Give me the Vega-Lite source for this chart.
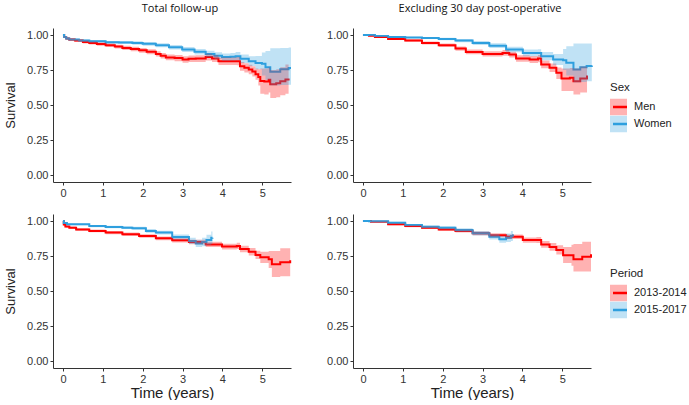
{
  "$schema": "https://vega.github.io/schema/vega-lite/v6.json",
  "background": "white",
  "padding": {"left": 4, "top": 3, "right": 0, "bottom": 0},
  "autosize": {"type": "pad"},
  "config": {
    "font": "Liberation Sans",
    "view": {"stroke": null},
    "axis": {"grid": false, "domainColor": "#333333", "tickColor": "#333333", "labelColor": "#333333", "labelFontSize": 11, "titleColor": "#222222", "titleFontWeight": "normal", "tickSize": 3, "labelPadding": 2, "labelOverlap": false},
    "title": {"font": "Open Sans", "fontSize": 11, "fontWeight": "normal", "color": "#111111"},
    "legend": {"labelFontSize": 11, "titleFontSize": 11.5, "titleFontWeight": "normal", "labelColor": "#222222", "titleColor": "#222222", "padding": 0, "rowPadding": 0, "titlePadding": 5, "labelOffset": 7, "clipHeight": 17}
  },
  "datasets": {
    "tl": [
      {"g": "Men", "t": 0, "s": 1, "lo": 1, "hi": 1},
      {"g": "Men", "t": 0.03, "s": 0.985, "lo": 0.978, "hi": 0.992},
      {"g": "Men", "t": 0.08, "s": 0.975, "lo": 0.967, "hi": 0.983},
      {"g": "Men", "t": 0.15, "s": 0.967, "lo": 0.958, "hi": 0.976},
      {"g": "Men", "t": 0.3, "s": 0.96, "lo": 0.95, "hi": 0.97},
      {"g": "Men", "t": 0.5, "s": 0.95, "lo": 0.94, "hi": 0.961},
      {"g": "Men", "t": 0.66, "s": 0.943, "lo": 0.932, "hi": 0.954},
      {"g": "Men", "t": 0.85, "s": 0.935, "lo": 0.923, "hi": 0.947},
      {"g": "Men", "t": 1.07, "s": 0.927, "lo": 0.914, "hi": 0.94},
      {"g": "Men", "t": 1.3, "s": 0.917, "lo": 0.903, "hi": 0.931},
      {"g": "Men", "t": 1.49, "s": 0.908, "lo": 0.893, "hi": 0.923},
      {"g": "Men", "t": 1.7, "s": 0.9, "lo": 0.884, "hi": 0.916},
      {"g": "Men", "t": 1.91, "s": 0.891, "lo": 0.874, "hi": 0.908},
      {"g": "Men", "t": 2.1, "s": 0.88, "lo": 0.862, "hi": 0.898},
      {"g": "Men", "t": 2.33, "s": 0.865, "lo": 0.846, "hi": 0.884},
      {"g": "Men", "t": 2.45, "s": 0.852, "lo": 0.832, "hi": 0.872},
      {"g": "Men", "t": 2.58, "s": 0.84, "lo": 0.819, "hi": 0.861},
      {"g": "Men", "t": 2.8, "s": 0.835, "lo": 0.813, "hi": 0.857},
      {"g": "Men", "t": 3.0, "s": 0.825, "lo": 0.802, "hi": 0.848},
      {"g": "Men", "t": 3.15, "s": 0.83, "lo": 0.807, "hi": 0.853},
      {"g": "Men", "t": 3.33, "s": 0.832, "lo": 0.808, "hi": 0.856},
      {"g": "Men", "t": 3.58, "s": 0.842, "lo": 0.818, "hi": 0.866},
      {"g": "Men", "t": 3.74, "s": 0.832, "lo": 0.807, "hi": 0.857},
      {"g": "Men", "t": 3.9, "s": 0.813, "lo": 0.786, "hi": 0.84},
      {"g": "Men", "t": 4.36, "s": 0.813, "lo": 0.784, "hi": 0.842},
      {"g": "Men", "t": 4.44, "s": 0.776, "lo": 0.745, "hi": 0.807},
      {"g": "Men", "t": 4.55, "s": 0.766, "lo": 0.733, "hi": 0.799},
      {"g": "Men", "t": 4.66, "s": 0.754, "lo": 0.72, "hi": 0.788},
      {"g": "Men", "t": 4.75, "s": 0.74, "lo": 0.703, "hi": 0.777},
      {"g": "Men", "t": 4.83, "s": 0.72, "lo": 0.68, "hi": 0.76},
      {"g": "Men", "t": 4.9, "s": 0.7, "lo": 0.64, "hi": 0.755},
      {"g": "Men", "t": 4.95, "s": 0.672, "lo": 0.58, "hi": 0.76},
      {"g": "Men", "t": 5.05, "s": 0.668, "lo": 0.575, "hi": 0.76},
      {"g": "Men", "t": 5.16, "s": 0.68, "lo": 0.59, "hi": 0.77},
      {"g": "Men", "t": 5.2, "s": 0.648, "lo": 0.55, "hi": 0.75},
      {"g": "Men", "t": 5.35, "s": 0.655, "lo": 0.555, "hi": 0.755},
      {"g": "Men", "t": 5.45, "s": 0.67, "lo": 0.57, "hi": 0.77},
      {"g": "Men", "t": 5.58, "s": 0.683, "lo": 0.58, "hi": 0.79},
      {"g": "Men", "t": 5.66, "s": 0.69, "lo": 0.585, "hi": 0.8},
      {"g": "Women", "t": 0, "s": 1, "lo": 1, "hi": 1},
      {"g": "Women", "t": 0.03, "s": 0.985, "lo": 0.979, "hi": 0.991},
      {"g": "Women", "t": 0.08, "s": 0.975, "lo": 0.968, "hi": 0.982},
      {"g": "Women", "t": 0.16, "s": 0.967, "lo": 0.96, "hi": 0.974},
      {"g": "Women", "t": 0.4, "s": 0.96, "lo": 0.952, "hi": 0.968},
      {"g": "Women", "t": 0.66, "s": 0.955, "lo": 0.946, "hi": 0.964},
      {"g": "Women", "t": 1.07, "s": 0.948, "lo": 0.938, "hi": 0.958},
      {"g": "Women", "t": 1.4, "s": 0.946, "lo": 0.935, "hi": 0.957},
      {"g": "Women", "t": 1.74, "s": 0.943, "lo": 0.931, "hi": 0.955},
      {"g": "Women", "t": 2.0, "s": 0.937, "lo": 0.924, "hi": 0.95},
      {"g": "Women", "t": 2.33, "s": 0.927, "lo": 0.913, "hi": 0.941},
      {"g": "Women", "t": 2.66, "s": 0.912, "lo": 0.896, "hi": 0.928},
      {"g": "Women", "t": 2.99, "s": 0.896, "lo": 0.878, "hi": 0.914},
      {"g": "Women", "t": 3.3, "s": 0.88, "lo": 0.86, "hi": 0.9},
      {"g": "Women", "t": 3.58, "s": 0.865, "lo": 0.843, "hi": 0.887},
      {"g": "Women", "t": 3.8, "s": 0.852, "lo": 0.828, "hi": 0.876},
      {"g": "Women", "t": 3.99, "s": 0.842, "lo": 0.816, "hi": 0.868},
      {"g": "Women", "t": 4.2, "s": 0.845, "lo": 0.818, "hi": 0.872},
      {"g": "Women", "t": 4.33, "s": 0.849, "lo": 0.82, "hi": 0.878},
      {"g": "Women", "t": 4.45, "s": 0.83, "lo": 0.8, "hi": 0.86},
      {"g": "Women", "t": 4.66, "s": 0.813, "lo": 0.778, "hi": 0.848},
      {"g": "Women", "t": 4.83, "s": 0.8, "lo": 0.755, "hi": 0.85},
      {"g": "Women", "t": 4.99, "s": 0.794, "lo": 0.71, "hi": 0.875},
      {"g": "Women", "t": 5.08, "s": 0.77, "lo": 0.68, "hi": 0.885},
      {"g": "Women", "t": 5.2, "s": 0.737, "lo": 0.64, "hi": 0.905},
      {"g": "Women", "t": 5.45, "s": 0.755, "lo": 0.642, "hi": 0.908},
      {"g": "Women", "t": 5.66, "s": 0.765, "lo": 0.645, "hi": 0.91},
      {"g": "Women", "t": 5.72, "s": 0.765, "lo": 0.645, "hi": 0.91}
    ],
    "tr": [
      {"g": "Men", "t": 0, "s": 1, "lo": 1, "hi": 1},
      {"g": "Men", "t": 0.15, "s": 0.995, "lo": 0.992, "hi": 0.998},
      {"g": "Men", "t": 0.3, "s": 0.986, "lo": 0.981, "hi": 0.991},
      {"g": "Men", "t": 0.63, "s": 0.972, "lo": 0.965, "hi": 0.979},
      {"g": "Men", "t": 1.06, "s": 0.96, "lo": 0.951, "hi": 0.969},
      {"g": "Men", "t": 1.48, "s": 0.943, "lo": 0.932, "hi": 0.954},
      {"g": "Men", "t": 1.9, "s": 0.927, "lo": 0.914, "hi": 0.94},
      {"g": "Men", "t": 2.32, "s": 0.903, "lo": 0.888, "hi": 0.918},
      {"g": "Men", "t": 2.58, "s": 0.879, "lo": 0.862, "hi": 0.896},
      {"g": "Men", "t": 3.0, "s": 0.865, "lo": 0.846, "hi": 0.884},
      {"g": "Men", "t": 3.5, "s": 0.872, "lo": 0.852, "hi": 0.892},
      {"g": "Men", "t": 3.67, "s": 0.86, "lo": 0.839, "hi": 0.881},
      {"g": "Men", "t": 3.84, "s": 0.832, "lo": 0.809, "hi": 0.855},
      {"g": "Men", "t": 4.18, "s": 0.825, "lo": 0.8, "hi": 0.85},
      {"g": "Men", "t": 4.39, "s": 0.832, "lo": 0.806, "hi": 0.858},
      {"g": "Men", "t": 4.47, "s": 0.79, "lo": 0.762, "hi": 0.818},
      {"g": "Men", "t": 4.68, "s": 0.766, "lo": 0.735, "hi": 0.797},
      {"g": "Men", "t": 4.85, "s": 0.73, "lo": 0.685, "hi": 0.767},
      {"g": "Men", "t": 4.98, "s": 0.69, "lo": 0.6, "hi": 0.76},
      {"g": "Men", "t": 5.19, "s": 0.695, "lo": 0.6, "hi": 0.765},
      {"g": "Men", "t": 5.28, "s": 0.67, "lo": 0.575, "hi": 0.76},
      {"g": "Men", "t": 5.45, "s": 0.69, "lo": 0.59, "hi": 0.775},
      {"g": "Men", "t": 5.62, "s": 0.71, "lo": 0.6, "hi": 0.79},
      {"g": "Women", "t": 0, "s": 1, "lo": 1, "hi": 1},
      {"g": "Women", "t": 0.3, "s": 0.993, "lo": 0.99, "hi": 0.996},
      {"g": "Women", "t": 0.63, "s": 0.986, "lo": 0.981, "hi": 0.991},
      {"g": "Women", "t": 1.06, "s": 0.982, "lo": 0.976, "hi": 0.988},
      {"g": "Women", "t": 1.48, "s": 0.979, "lo": 0.972, "hi": 0.986},
      {"g": "Women", "t": 1.9, "s": 0.972, "lo": 0.963, "hi": 0.981},
      {"g": "Women", "t": 2.32, "s": 0.96, "lo": 0.949, "hi": 0.971},
      {"g": "Women", "t": 2.75, "s": 0.943, "lo": 0.929, "hi": 0.957},
      {"g": "Women", "t": 3.17, "s": 0.924, "lo": 0.907, "hi": 0.941},
      {"g": "Women", "t": 3.59, "s": 0.896, "lo": 0.876, "hi": 0.916},
      {"g": "Women", "t": 4.01, "s": 0.872, "lo": 0.848, "hi": 0.896},
      {"g": "Women", "t": 4.39, "s": 0.872, "lo": 0.845, "hi": 0.899},
      {"g": "Women", "t": 4.47, "s": 0.849, "lo": 0.82, "hi": 0.878},
      {"g": "Women", "t": 4.77, "s": 0.825, "lo": 0.785, "hi": 0.865},
      {"g": "Women", "t": 5.02, "s": 0.82, "lo": 0.75, "hi": 0.9},
      {"g": "Women", "t": 5.1, "s": 0.801, "lo": 0.71, "hi": 0.92},
      {"g": "Women", "t": 5.28, "s": 0.754, "lo": 0.66, "hi": 0.94},
      {"g": "Women", "t": 5.45, "s": 0.77, "lo": 0.665, "hi": 0.94},
      {"g": "Women", "t": 5.61, "s": 0.778, "lo": 0.67, "hi": 0.94},
      {"g": "Women", "t": 5.74, "s": 0.782, "lo": 0.67, "hi": 0.94}
    ],
    "bl": [
      {"g": "2013-2014", "t": 0, "s": 1, "lo": 1, "hi": 1},
      {"g": "2013-2014", "t": 0.02, "s": 0.975, "lo": 0.968, "hi": 0.982},
      {"g": "2013-2014", "t": 0.06, "s": 0.96, "lo": 0.952, "hi": 0.968},
      {"g": "2013-2014", "t": 0.16, "s": 0.952, "lo": 0.944, "hi": 0.96},
      {"g": "2013-2014", "t": 0.33, "s": 0.94, "lo": 0.931, "hi": 0.949},
      {"g": "2013-2014", "t": 0.66, "s": 0.929, "lo": 0.919, "hi": 0.939},
      {"g": "2013-2014", "t": 1.07, "s": 0.917, "lo": 0.906, "hi": 0.928},
      {"g": "2013-2014", "t": 1.49, "s": 0.905, "lo": 0.893, "hi": 0.917},
      {"g": "2013-2014", "t": 1.91, "s": 0.893, "lo": 0.88, "hi": 0.906},
      {"g": "2013-2014", "t": 2.33, "s": 0.876, "lo": 0.862, "hi": 0.89},
      {"g": "2013-2014", "t": 2.74, "s": 0.862, "lo": 0.847, "hi": 0.877},
      {"g": "2013-2014", "t": 3.16, "s": 0.85, "lo": 0.834, "hi": 0.866},
      {"g": "2013-2014", "t": 3.58, "s": 0.833, "lo": 0.815, "hi": 0.851},
      {"g": "2013-2014", "t": 3.99, "s": 0.817, "lo": 0.797, "hi": 0.837},
      {"g": "2013-2014", "t": 4.36, "s": 0.822, "lo": 0.8, "hi": 0.844},
      {"g": "2013-2014", "t": 4.44, "s": 0.8, "lo": 0.776, "hi": 0.824},
      {"g": "2013-2014", "t": 4.66, "s": 0.781, "lo": 0.754, "hi": 0.808},
      {"g": "2013-2014", "t": 4.83, "s": 0.758, "lo": 0.728, "hi": 0.788},
      {"g": "2013-2014", "t": 4.95, "s": 0.741, "lo": 0.7, "hi": 0.78},
      {"g": "2013-2014", "t": 5.16, "s": 0.726, "lo": 0.665, "hi": 0.785},
      {"g": "2013-2014", "t": 5.24, "s": 0.691, "lo": 0.6, "hi": 0.785},
      {"g": "2013-2014", "t": 5.45, "s": 0.705, "lo": 0.605, "hi": 0.805},
      {"g": "2013-2014", "t": 5.7, "s": 0.72, "lo": 0.608, "hi": 0.822},
      {"g": "2015-2017", "t": 0, "s": 1, "lo": 1, "hi": 1},
      {"g": "2015-2017", "t": 0.02, "s": 0.985, "lo": 0.98, "hi": 0.99},
      {"g": "2015-2017", "t": 0.1, "s": 0.976, "lo": 0.97, "hi": 0.982},
      {"g": "2015-2017", "t": 0.66, "s": 0.964, "lo": 0.956, "hi": 0.972},
      {"g": "2015-2017", "t": 1.07, "s": 0.957, "lo": 0.948, "hi": 0.966},
      {"g": "2015-2017", "t": 1.49, "s": 0.952, "lo": 0.942, "hi": 0.962},
      {"g": "2015-2017", "t": 1.74, "s": 0.948, "lo": 0.937, "hi": 0.959},
      {"g": "2015-2017", "t": 2.08, "s": 0.929, "lo": 0.916, "hi": 0.942},
      {"g": "2015-2017", "t": 2.33, "s": 0.917, "lo": 0.903, "hi": 0.931},
      {"g": "2015-2017", "t": 2.74, "s": 0.886, "lo": 0.868, "hi": 0.904},
      {"g": "2015-2017", "t": 3.16, "s": 0.858, "lo": 0.835, "hi": 0.881},
      {"g": "2015-2017", "t": 3.33, "s": 0.84, "lo": 0.814, "hi": 0.866},
      {"g": "2015-2017", "t": 3.49, "s": 0.85, "lo": 0.82, "hi": 0.88},
      {"g": "2015-2017", "t": 3.6, "s": 0.865, "lo": 0.828, "hi": 0.902},
      {"g": "2015-2017", "t": 3.72, "s": 0.88, "lo": 0.835, "hi": 0.925},
      {"g": "2015-2017", "t": 3.75, "s": 0.881, "lo": 0.835, "hi": 0.928}
    ],
    "br": [
      {"g": "2013-2014", "t": 0, "s": 1, "lo": 1, "hi": 1},
      {"g": "2013-2014", "t": 0.2, "s": 0.995, "lo": 0.992, "hi": 0.998},
      {"g": "2013-2014", "t": 0.63, "s": 0.976, "lo": 0.969, "hi": 0.983},
      {"g": "2013-2014", "t": 1.06, "s": 0.964, "lo": 0.956, "hi": 0.972},
      {"g": "2013-2014", "t": 1.48, "s": 0.952, "lo": 0.943, "hi": 0.961},
      {"g": "2013-2014", "t": 1.9, "s": 0.94, "lo": 0.93, "hi": 0.95},
      {"g": "2013-2014", "t": 2.32, "s": 0.929, "lo": 0.918, "hi": 0.94},
      {"g": "2013-2014", "t": 2.75, "s": 0.912, "lo": 0.899, "hi": 0.925},
      {"g": "2013-2014", "t": 3.17, "s": 0.898, "lo": 0.884, "hi": 0.912},
      {"g": "2013-2014", "t": 3.59, "s": 0.888, "lo": 0.872, "hi": 0.904},
      {"g": "2013-2014", "t": 4.01, "s": 0.864, "lo": 0.845, "hi": 0.883},
      {"g": "2013-2014", "t": 4.35, "s": 0.864, "lo": 0.843, "hi": 0.885},
      {"g": "2013-2014", "t": 4.47, "s": 0.833, "lo": 0.809, "hi": 0.857},
      {"g": "2013-2014", "t": 4.68, "s": 0.815, "lo": 0.788, "hi": 0.842},
      {"g": "2013-2014", "t": 4.85, "s": 0.793, "lo": 0.76, "hi": 0.826},
      {"g": "2013-2014", "t": 5.02, "s": 0.755, "lo": 0.7, "hi": 0.815},
      {"g": "2013-2014", "t": 5.23, "s": 0.755, "lo": 0.68, "hi": 0.83},
      {"g": "2013-2014", "t": 5.28, "s": 0.726, "lo": 0.64, "hi": 0.835},
      {"g": "2013-2014", "t": 5.5, "s": 0.745, "lo": 0.64, "hi": 0.852},
      {"g": "2013-2014", "t": 5.72, "s": 0.762, "lo": 0.637, "hi": 0.869},
      {"g": "2015-2017", "t": 0, "s": 1, "lo": 1, "hi": 1},
      {"g": "2015-2017", "t": 0.15, "s": 0.998, "lo": 0.996, "hi": 1},
      {"g": "2015-2017", "t": 0.63, "s": 0.988, "lo": 0.982, "hi": 0.994},
      {"g": "2015-2017", "t": 1.06, "s": 0.971, "lo": 0.963, "hi": 0.979},
      {"g": "2015-2017", "t": 1.48, "s": 0.959, "lo": 0.95, "hi": 0.968},
      {"g": "2015-2017", "t": 1.9, "s": 0.952, "lo": 0.941, "hi": 0.963},
      {"g": "2015-2017", "t": 2.32, "s": 0.936, "lo": 0.923, "hi": 0.949},
      {"g": "2015-2017", "t": 2.75, "s": 0.912, "lo": 0.896, "hi": 0.928},
      {"g": "2015-2017", "t": 3.17, "s": 0.888, "lo": 0.868, "hi": 0.908},
      {"g": "2015-2017", "t": 3.42, "s": 0.869, "lo": 0.845, "hi": 0.893},
      {"g": "2015-2017", "t": 3.59, "s": 0.88, "lo": 0.85, "hi": 0.91},
      {"g": "2015-2017", "t": 3.71, "s": 0.893, "lo": 0.857, "hi": 0.929},
      {"g": "2015-2017", "t": 3.76, "s": 0.905, "lo": 0.865, "hi": 0.94}
    ]
  },
  "spacing": 16,
  "resolve": {"scale": {"fill": "independent", "stroke": "independent"}},
  "vconcat": [
    {
      "spacing": 31,
      "hconcat": [
        {
          "width": 238, "height": 154,
          "title": {"text": "Total follow-up", "offset": 14, "frame": "group", "dx": 8},
          "data": {"name": "tl"},
          "encoding": {"x": {"field": "t", "type": "quantitative", "scale": {"domain": [-0.25, 5.72], "nice": false, "zero": false}, "axis": {"values": [0, 1, 2, 3, 4, 5], "format": "d", "title": null}}},
          "layer": [
            {"mark": {"type": "line", "interpolate": "step-after", "strokeWidth": 2},
             "encoding": {
               "y": {"field": "s", "type": "quantitative", "scale": {"domain": [-0.05, 1.05], "nice": false, "zero": false}, "axis": {"values": [0, 0.25, 0.5, 0.75, 1], "format": ".2f", "title": "Survival", "titleFontSize": 13, "titlePadding": 9}},
               "stroke": {"field": "g", "type": "nominal", "scale": {"range": ["#FF0000", "#2E9FDF"]}, "legend": {"title": "Sex", "orient": "none", "legendX": 557, "legendY": 54, "symbolType": "stroke", "symbolSize": 196, "symbolStrokeWidth": 2.5, "symbolOffset": 1.5, "labelOpacity": 0, "titleOpacity": 0}}
             }},
            {"mark": {"type": "area", "interpolate": "step-after", "opacity": 0.3},
             "encoding": {
               "y": {"field": "lo", "type": "quantitative", "scale": {"domain": [-0.05, 1.05], "nice": false, "zero": false}, "axis": {"values": [0, 0.25, 0.5, 0.75, 1], "format": ".2f", "title": "Survival", "titleFontSize": 13, "titlePadding": 9}},
               "y2": {"field": "hi"},
               "fill": {"field": "g", "type": "nominal", "scale": {"domain": ["Men", "Women"], "range": ["#FF0000", "#2E9FDF"]}, "legend": {"title": "Sex", "orient": "none", "legendX": 557, "legendY": 54, "symbolType": "square", "symbolSize": 289, "symbolOpacity": 0.3, "symbolStrokeWidth": 0}}
             }}
          ]
        },
        {
          "width": 238, "height": 154,
          "title": {"text": "Excluding 30 day post-operative", "offset": 14, "frame": "group", "dx": 8},
          "data": {"name": "tr"},
          "encoding": {"x": {"field": "t", "type": "quantitative", "scale": {"domain": [-0.25, 5.72], "nice": false, "zero": false}, "axis": {"values": [0, 1, 2, 3, 4, 5], "format": "d", "title": null}}},
          "layer": [
            {"mark": {"type": "line", "interpolate": "step-after", "strokeWidth": 2},
             "encoding": {
               "y": {"field": "s", "type": "quantitative", "scale": {"domain": [-0.05, 1.05], "nice": false, "zero": false}, "axis": {"values": [0, 0.25, 0.5, 0.75, 1], "format": ".2f", "title": null}},
               "stroke": {"field": "g", "type": "nominal", "scale": {"range": ["#FF0000", "#2E9FDF"]}}
             }},
            {"mark": {"type": "area", "interpolate": "step-after", "opacity": 0.3},
             "encoding": {
               "y": {"field": "lo", "type": "quantitative", "scale": {"domain": [-0.05, 1.05], "nice": false, "zero": false}, "axis": {"values": [0, 0.25, 0.5, 0.75, 1], "format": ".2f", "title": null}},
               "y2": {"field": "hi"},
               "fill": {"field": "g", "type": "nominal", "scale": {"domain": ["Men", "Women"], "range": ["#FF0000", "#2E9FDF"]}}
             }}
          ]
        }
      ]
    },
    {
      "spacing": 31,
      "hconcat": [
        {
          "width": 238, "height": 154,
          "data": {"name": "bl"},
          "encoding": {"x": {"field": "t", "type": "quantitative", "scale": {"domain": [-0.25, 5.72], "nice": false, "zero": false}, "axis": {"values": [0, 1, 2, 3, 4, 5], "format": "d", "title": "Time (years)", "titleFontSize": 15, "titleBaseline": "alphabetic", "titleY": 29}}},
          "layer": [
            {"mark": {"type": "line", "interpolate": "step-after", "strokeWidth": 2},
             "encoding": {
               "y": {"field": "s", "type": "quantitative", "scale": {"domain": [-0.05, 1.05], "nice": false, "zero": false}, "axis": {"values": [0, 0.25, 0.5, 0.75, 1], "format": ".2f", "title": "Survival", "titleFontSize": 13, "titlePadding": 9}},
               "stroke": {"field": "g", "type": "nominal", "scale": {"range": ["#FF0000", "#2E9FDF"]}, "legend": {"title": "Period", "orient": "none", "legendX": 557, "legendY": 54, "symbolType": "stroke", "symbolSize": 196, "symbolStrokeWidth": 2.5, "symbolOffset": 1.5, "labelOpacity": 0, "titleOpacity": 0}}
             }},
            {"mark": {"type": "area", "interpolate": "step-after", "opacity": 0.3},
             "encoding": {
               "y": {"field": "lo", "type": "quantitative", "scale": {"domain": [-0.05, 1.05], "nice": false, "zero": false}, "axis": {"values": [0, 0.25, 0.5, 0.75, 1], "format": ".2f", "title": "Survival", "titleFontSize": 13, "titlePadding": 9}},
               "y2": {"field": "hi"},
               "fill": {"field": "g", "type": "nominal", "scale": {"domain": ["2013-2014", "2015-2017"], "range": ["#FF0000", "#2E9FDF"]}, "legend": {"title": "Period", "orient": "none", "legendX": 557, "legendY": 54, "symbolType": "square", "symbolSize": 289, "symbolOpacity": 0.3, "symbolStrokeWidth": 0}}
             }}
          ]
        },
        {
          "width": 238, "height": 154,
          "data": {"name": "br"},
          "encoding": {"x": {"field": "t", "type": "quantitative", "scale": {"domain": [-0.25, 5.72], "nice": false, "zero": false}, "axis": {"values": [0, 1, 2, 3, 4, 5], "format": "d", "title": "Time (years)", "titleFontSize": 15, "titleBaseline": "alphabetic", "titleY": 29}}},
          "layer": [
            {"mark": {"type": "line", "interpolate": "step-after", "strokeWidth": 2},
             "encoding": {
               "y": {"field": "s", "type": "quantitative", "scale": {"domain": [-0.05, 1.05], "nice": false, "zero": false}, "axis": {"values": [0, 0.25, 0.5, 0.75, 1], "format": ".2f", "title": null}},
               "stroke": {"field": "g", "type": "nominal", "scale": {"range": ["#FF0000", "#2E9FDF"]}}
             }},
            {"mark": {"type": "area", "interpolate": "step-after", "opacity": 0.3},
             "encoding": {
               "y": {"field": "lo", "type": "quantitative", "scale": {"domain": [-0.05, 1.05], "nice": false, "zero": false}, "axis": {"values": [0, 0.25, 0.5, 0.75, 1], "format": ".2f", "title": null}},
               "y2": {"field": "hi"},
               "fill": {"field": "g", "type": "nominal", "scale": {"domain": ["2013-2014", "2015-2017"], "range": ["#FF0000", "#2E9FDF"]}}
             }}
          ]
        }
      ]
    }
  ]
}
